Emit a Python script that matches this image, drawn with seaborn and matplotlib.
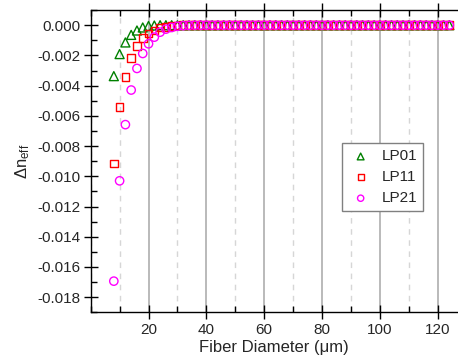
import matplotlib
matplotlib.use("Agg")
import matplotlib.pyplot as plt
from matplotlib.ticker import MultipleLocator
import seaborn as sns
import pandas as pd

diameter = [8, 10, 12, 14, 16, 18, 20, 22, 24, 26, 28, 30, 32, 34, 36, 38, 40,
            42, 44, 46, 48, 50, 52, 54, 56, 58, 60, 62, 64, 66, 68, 70, 72, 74,
            76, 78, 80, 82, 84, 86, 88, 90, 92, 94, 96, 98, 100, 102, 104, 106,
            108, 110, 112, 114, 116, 118, 120, 122, 124]

lp01 = [-0.00337, -0.00191, -0.00114, -0.00064, -0.00035, -0.00015, -0.00005,
        -0.00002, 0, 0, 0, 0, 0, 0, 0, 0, 0, 0, 0, 0, 0, 0, 0, 0, 0, 0, 0, 0,
        0, 0, 0, 0, 0, 0, 0, 0, 0, 0, 0, 0, 0, 0, 0, 0, 0, 0, 0, 0, 0, 0, 0,
        0, 0, 0, 0, 0, 0, 0, 0]
lp11 = [-0.00915, -0.00543, -0.00341, -0.00216, -0.00137, -0.00084, -0.00055,
        -0.00035, -0.00015, -0.00010, -0.00005, -0.00002, 0, 0, 0, 0, 0, 0, 0,
        0, 0, 0, 0, 0, 0, 0, 0, 0, 0, 0, 0, 0, 0, 0, 0, 0, 0, 0, 0, 0, 0, 0,
        0, 0, 0, 0, 0, 0, 0, 0, 0, 0, 0, 0, 0, 0, 0, 0, 0]
lp21 = [-0.01694, -0.01030, -0.00658, -0.00429, -0.00286, -0.00187, -0.00123,
        -0.00079, -0.00046, -0.00026, -0.00015, -0.00007, -0.00003, -0.00001,
        0, 0, 0, 0, 0, 0, 0, 0, 0, 0, 0, 0, 0, 0, 0, 0, 0, 0, 0, 0, 0, 0, 0,
        0, 0, 0, 0, 0, 0, 0, 0, 0, 0, 0, 0, 0, 0, 0, 0, 0, 0, 0, 0, 0, 0]

modes = ["LP01", "LP11", "LP21"]
x_ticks = [20, 40, 60, 80, 100, 120]
y_ticks = [0.000, -0.002, -0.004, -0.006, -0.008, -0.010, -0.012, -0.014,
           -0.016, -0.018]

sns.set_theme(style="ticks")
plt.rcParams["font.family"] = ["Liberation Sans", "DejaVu Sans"]
plt.rcParams["mathtext.fontset"] = "custom"
plt.rcParams["mathtext.rm"] = "Liberation Sans"
plt.rcParams["mathtext.it"] = "Liberation Sans"

fig = plt.figure(figsize=(4.58, 3.61), dpi=100)
ax = fig.add_axes([0.198, 0.135, 0.802, 0.837])

series = {"LP01": lp01, "LP11": lp11, "LP21": lp21}
colors = {"LP01": "#008000", "LP11": "#ff0000", "LP21": "#ff00ff"}
markers = {"LP01": "^", "LP11": "s", "LP21": "o"}
sizes = {"LP01": 42, "LP11": 30, "LP21": 36}

for m in modes:
    df = pd.DataFrame({"d": diameter, "dn": series[m]})
    sns.scatterplot(data=df, x="d", y="dn", ax=ax, marker=markers[m],
                    s=sizes[m], facecolor="none", edgecolor=colors[m],
                    linewidth=1.0, label=m, zorder=3)

ax.set_xlim(0, 127)
ax.set_ylim(-0.019, 0.001)
ax.set_xticks(x_ticks)
ax.set_yticks(y_ticks)
ax.set_yticklabels([f"{v:.3f}" if v != 0 else "0.000" for v in y_ticks])
ax.xaxis.set_minor_locator(MultipleLocator(10))
ax.yaxis.set_minor_locator(MultipleLocator(0.001))

ax.grid(False)
ax.grid(True, which="major", axis="x", color="#b4b4b4", linewidth=1.3,
        linestyle="-", zorder=0)
ax.grid(True, which="minor", axis="x", color="#d6d6d6", linewidth=1.0,
        linestyle=(0, (4, 4)), zorder=0)

for s in ["left", "bottom", "top"]:
    ax.spines[s].set_color("black")
    ax.spines[s].set_linewidth(1.0)
ax.spines["right"].set_visible(False)

ax.tick_params(axis="both", which="major", direction="inout", length=10,
               width=1.0, labelsize=11, color="black", pad=2)
ax.tick_params(axis="both", which="minor", direction="in", length=4,
               width=1.0, color="black")
ax.tick_params(axis="x", which="both", top=True)
ax.tick_params(axis="x", which="major", pad=3)

ax.set_xlabel("Fiber Diameter (μm)", fontsize=12, labelpad=2)
ax.set_ylabel(r"$\Delta n_{\mathrm{eff}}$", fontsize=12, labelpad=4)

leg = ax.legend(loc="upper left", bbox_to_anchor=(0.683, 0.559),
                borderaxespad=0, fontsize=11, frameon=True, fancybox=False,
                edgecolor="#808080", framealpha=1, handletextpad=0.5,
                labelspacing=0.45, borderpad=0.4, markerscale=0.75,
                handlelength=1.7)
leg.get_frame().set_linewidth(1.0)

fig.savefig("out.png", dpi=100)
